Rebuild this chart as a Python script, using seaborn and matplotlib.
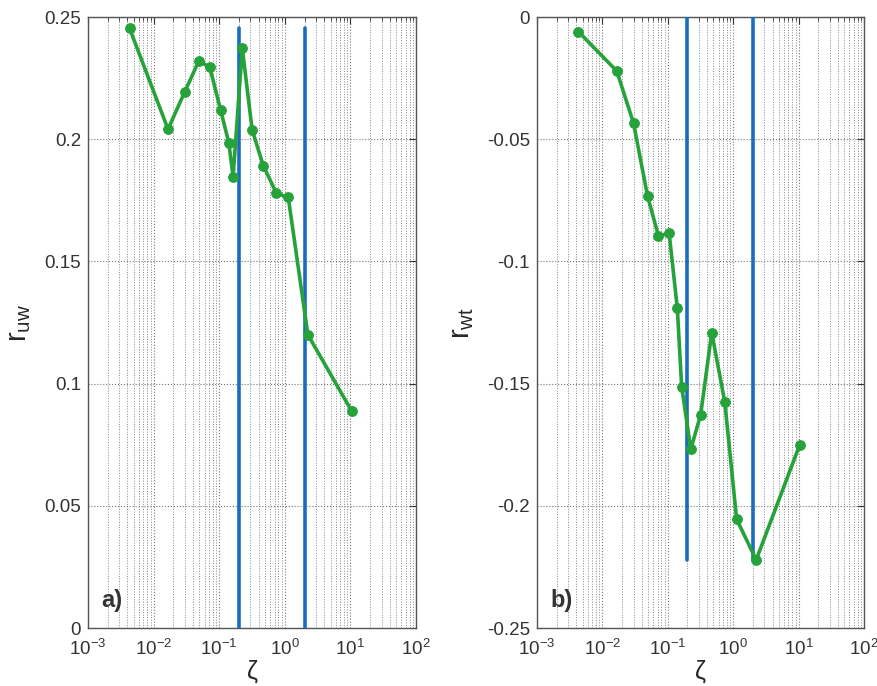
import numpy as np
import pandas as pd
import matplotlib
matplotlib.use("Agg")
import matplotlib.pyplot as plt
import seaborn as sns
from matplotlib.ticker import LogLocator, NullFormatter

# Data
zeta = [0.0043, 0.0166, 0.030, 0.049, 0.072, 0.105, 0.140, 0.163, 0.225,
        0.318, 0.470, 0.745, 1.13, 2.25, 10.4]
r_uw = [0.2454, 0.2041, 0.2195, 0.2321, 0.2294, 0.2120, 0.1986, 0.1847, 0.2372,
        0.2038, 0.1892, 0.1779, 0.1762, 0.1200, 0.0889]
r_wt = [-0.0060, -0.0221, -0.0435, -0.0732, -0.0896, -0.0885, -0.1192, -0.1512, -0.1768,
        -0.1628, -0.1291, -0.1576, -0.2055, -0.2221, -0.1751]
zeta_limits = [0.2, 2.0]

uw_ticks = [0, 0.05, 0.1, 0.15, 0.2, 0.25]
uw_labels = ["0", "0.05", "0.1", "0.15", "0.2", "0.25"]
wt_ticks = [-0.25, -0.2, -0.15, -0.1, -0.05, 0]
wt_labels = ["-0.25", "-0.2", "-0.15", "-0.1", "-0.05", "0"]

df = pd.DataFrame({"zeta": zeta, "r_uw": r_uw, "r_wt": r_wt})

sns.set_style("white")
plt.rcParams["font.family"] = ["Liberation Sans", "DejaVu Sans"]
plt.rcParams["mathtext.default"] = "regular"

green = "#25a23a"
blue = "#1a6cc0"

fig = plt.figure(figsize=(8.78, 6.86), dpi=100)
ax1 = fig.add_axes([0.1002, 0.0845, 0.3736, 0.8907])
ax2 = fig.add_axes([0.6116, 0.0845, 0.3724, 0.8907])

panels = [
    (ax1, "r_uw", uw_ticks, uw_labels, (0, 0.25), "r$_{uw}$", "a)"),
    (ax2, "r_wt", wt_ticks, wt_labels, (-0.25, 0), "r$_{wt}$", "b)"),
]

for ax, col, yt, yl, ylim, ylab, tag in panels:
    # vertical markers spanning from zero to the extreme of the series
    ext = df[col].max() if col == "r_uw" else df[col].min()
    for z in zeta_limits:
        ax.plot([z, z], [0, ext], color=blue, lw=2.6, zorder=3)

    sns.lineplot(data=df, x="zeta", y=col, ax=ax, color=green, lw=2.6,
                 marker="o", markersize=7, markeredgecolor=green, zorder=4)

    ax.set_xscale("log")
    ax.set_xlim(1e-3, 1e2)
    ax.set_ylim(*ylim)
    ax.set_yticks(yt)
    ax.set_yticklabels(yl)
    ax.xaxis.set_major_locator(LogLocator(base=10, numticks=10))
    ax.xaxis.set_minor_locator(LogLocator(base=10, subs=np.arange(2, 10), numticks=20))
    ax.xaxis.set_minor_formatter(NullFormatter())

    ax.grid(True, which="major", axis="both", color="#777777", ls=":", lw=0.8)
    ax.grid(True, which="minor", axis="x", color="#888888", ls=":", lw=0.7)
    ax.tick_params(which="both", direction="in", top=True, right=True,
                   labelsize=13.5, colors="#333333")
    ax.tick_params(axis="x", which="major", pad=8)
    ax.tick_params(axis="y", pad=5)
    ax.tick_params(which="major", length=5)
    ax.tick_params(which="minor", length=3)
    for s in ax.spines.values():
        s.set_color("#555555")
        s.set_linewidth(1.0)

    ax.set_xlabel(r"$\zeta$", fontsize=18, labelpad=-1)
    ax.set_ylabel(ylab, fontsize=21, labelpad=8)
    ax.text(0.04, 0.035, tag, transform=ax.transAxes, fontsize=17,
            fontweight="bold", color="#333333")

fig.savefig("out.png", dpi=100)
